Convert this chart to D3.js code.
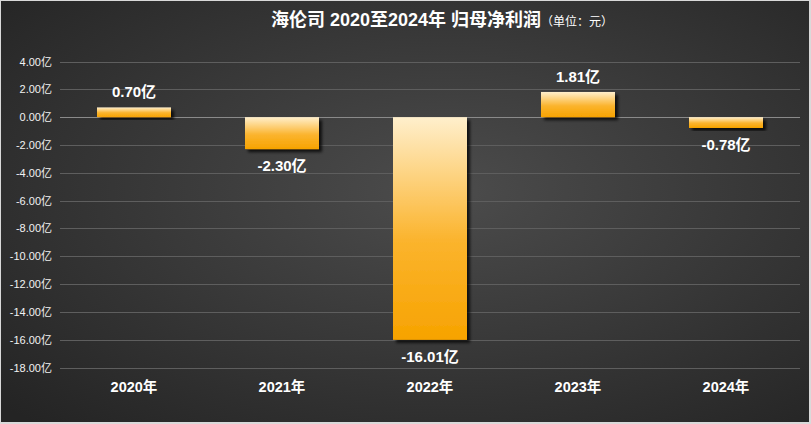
<!DOCTYPE html>
<html>
<head>
<meta charset="UTF-8">
<title>海伦司 归母净利润</title>
<script src="https://cdn.jsdelivr.net/npm/d3@7"></script>
<style>
  body { margin: 0; background: #fff; }
  svg { display: block; font-family: "Liberation Sans", Arial, "Noto Sans CJK SC", sans-serif; }
</style>
</head>
<body>
<script>
const years = ['2020年', '2021年', '2022年', '2023年', '2024年'];
const profit = [0.70, -2.30, -16.01, 1.81, -0.78];
const yTicks = [4, 2, 0, -2, -4, -6, -8, -10, -12, -14, -16, -18];

const width = 811, height = 424;
const fmt = d => d.toFixed(2) + '亿';

const svg = d3.select('body').append('svg')
    .attr('width', width)
    .attr('height', height);

const defs = svg.append('defs');

const bg = defs.append('radialGradient')
    .attr('id', 'bg')
    .attr('cx', '55%').attr('cy', '45%').attr('r', '75%');
bg.append('stop').attr('offset', '0%').attr('stop-color', '#4c4c4c');
bg.append('stop').attr('offset', '100%').attr('stop-color', '#242424');

const barGrad = defs.append('linearGradient')
    .attr('id', 'bar')
    .attr('x1', 0).attr('y1', 0).attr('x2', 0).attr('y2', 1);
barGrad.append('stop').attr('offset', '0%').attr('stop-color', '#ffefcc');
barGrad.append('stop').attr('offset', '55%').attr('stop-color', '#fbb42e');
barGrad.append('stop').attr('offset', '100%').attr('stop-color', '#f7a300');

const shadow = defs.append('filter').attr('id', 'shadow')
    .attr('x', '-10%').attr('y', '-10%').attr('width', '130%').attr('height', '130%');
shadow.append('feDropShadow')
    .attr('dx', 3).attr('dy', 3).attr('stdDeviation', 1.5)
    .attr('flood-color', '#000').attr('flood-opacity', 0.75);

// frame
svg.append('rect')
    .attr('x', 0).attr('y', 0).attr('width', width).attr('height', height)
    .attr('fill', '#d9d9d9');
svg.append('rect')
    .attr('x', 1).attr('y', 1).attr('width', width - 3).attr('height', height - 3)
    .attr('fill', 'url(#bg)');

const x = d3.scaleBand()
    .domain(years)
    .range([60, 800])
    .paddingInner(0.5)
    .paddingOuter(0.25);

const y = d3.scaleLinear()
    .domain([-18, 4])
    .range([367.5, 61.5]);

// grid
svg.append('g')
    .selectAll('line')
    .data(yTicks)
    .join('line')
    .attr('x1', 60).attr('x2', 800)
    .attr('y1', d => Math.round(y(d)) + 0.5)
    .attr('y2', d => Math.round(y(d)) + 0.5)
    .attr('stroke', d => d === 0 ? '#8a8a8a' : '#5e5e5e')
    .attr('stroke-width', 1);

// y labels
svg.append('g')
    .selectAll('text')
    .data(yTicks)
    .join('text')
    .attr('x', 52)
    .attr('y', d => y(d) + 4)
    .attr('text-anchor', 'end')
    .attr('fill', '#f2f2f2')
    .attr('font-size', 11)
    .text(fmt);

// bars
svg.append('g')
    .selectAll('rect')
    .data(profit)
    .join('rect')
    .attr('x', (d, i) => x(years[i]))
    .attr('width', x.bandwidth())
    .attr('y', d => y(Math.max(0, d)))
    .attr('height', d => Math.abs(y(d) - y(0)))
    .attr('fill', 'url(#bar)')
    .attr('filter', 'url(#shadow)');

// value labels
svg.append('g')
    .selectAll('text')
    .data(profit)
    .join('text')
    .attr('x', (d, i) => x(years[i]) + x.bandwidth() / 2)
    .attr('y', d => d >= 0 ? y(d) - 10 : y(d) + 22)
    .attr('text-anchor', 'middle')
    .attr('fill', '#ffffff')
    .attr('font-size', 15)
    .attr('font-weight', 'bold')
    .text(fmt);

// x labels
svg.append('g')
    .selectAll('text')
    .data(years)
    .join('text')
    .attr('x', d => x(d) + x.bandwidth() / 2)
    .attr('y', 392)
    .attr('text-anchor', 'middle')
    .attr('fill', '#ffffff')
    .attr('font-size', 14.5)
    .attr('font-weight', 'bold')
    .text(d => d);

// title
const title = svg.append('text')
    .attr('x', 442)
    .attr('y', 26)
    .attr('text-anchor', 'middle')
    .attr('fill', '#ffffff');
title.append('tspan')
    .attr('font-size', 18)
    .attr('font-weight', 'bold')
    .text('海伦司 2020至2024年 归母净利润');
title.append('tspan')
    .attr('font-size', 12)
    .attr('font-family', '"Noto Sans CJK SC", sans-serif')
    .text('（单位：元）');
</script>
</body>
</html>
